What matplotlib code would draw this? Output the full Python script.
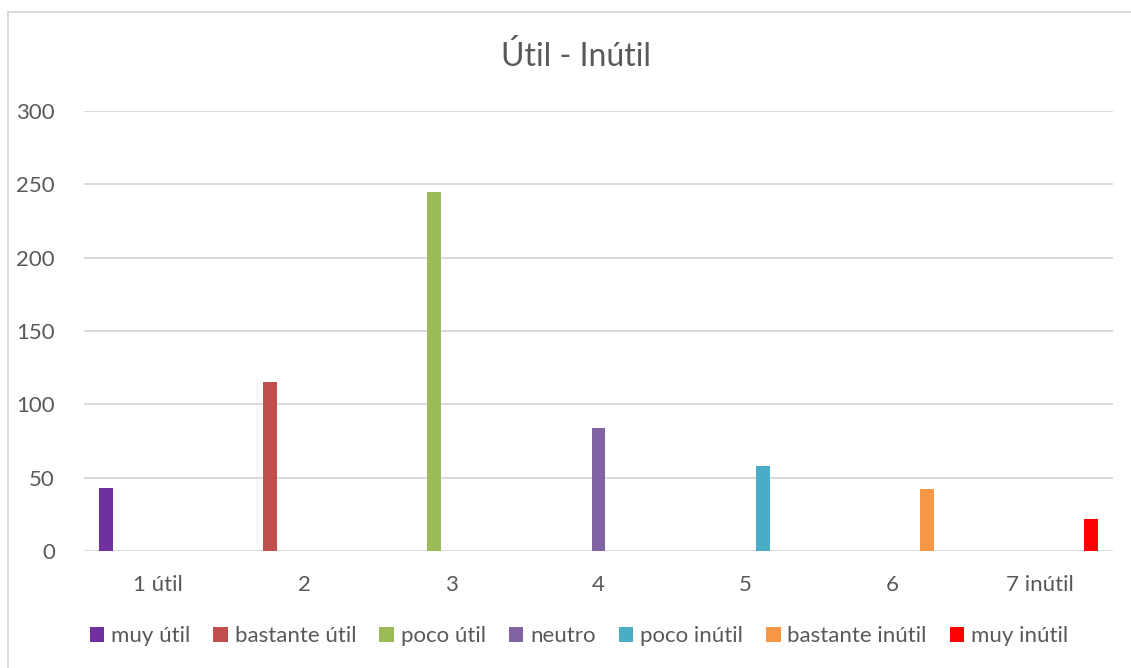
import matplotlib
matplotlib.use("Agg")
import matplotlib.pyplot as plt
from matplotlib.patches import Rectangle, Patch
import numpy as np

plt.rcParams['font.family'] = ['Lato', 'DejaVu Sans']

title = "Útil - Inútil"
categories = ["1 útil", "2", "3", "4", "5", "6", "7 inútil"]
series_names = ["muy útil", "bastante útil", "poco útil", "neutro",
                "poco inútil", "bastante inútil", "muy inútil"]
# each series has a single count, sitting at the category of the same index
counts = [43, 115, 245, 84, 58, 42, 22]
colors = ["#7030A0", "#C0504D", "#9BBB59", "#8064A2",
          "#4BACC6", "#F79646", "#FF0000"]
y_ticks = [0, 50, 100, 150, 200, 250, 300]

text_color = "#595959"
grid_color = "#D9D9D9"

fig = plt.figure(figsize=(11.31, 6.68), dpi=100)
fig.patch.set_facecolor("white")

# chart-area frame (top and left edges visible)
fig.add_artist(Rectangle((7.5 / 1131, -0.1), 1.2, 1 - 12.5 / 668 + 0.1,
                         transform=fig.transFigure, fill=False,
                         edgecolor=grid_color, linewidth=1.4))

ax = fig.add_axes([84 / 1131, 1 - 551 / 668, (1113 - 84) / 1131, 440 / 668])

n_series = len(series_names)
slot = 0.1167
bar_w = 0.095
x = np.arange(len(categories))
for s in range(n_series):
    ax.bar(x[s] + (s - (n_series - 1) / 2) * slot, counts[s], width=bar_w,
           color=colors[s], label=series_names[s], zorder=3)

ax.set_xlim(-0.5, len(categories) - 0.5)
ax.set_ylim(0, 300)
ax.set_yticks(y_ticks)
ax.set_xticks(x)
ax.set_xticklabels(categories)
ax.tick_params(axis='both', length=0, labelsize=16, labelcolor=text_color)
ax.tick_params(axis='y', pad=21)
ax.tick_params(axis='x', pad=17)
ax.grid(axis='y', color=grid_color, linewidth=1.4, zorder=0)
for sp in ax.spines.values():
    sp.set_visible(False)

fig.text(576 / 1131, 1 - 56 / 668, title, ha='center', va='center',
         fontsize=23, color=text_color)

handles = [Patch(facecolor=c, edgecolor='none') for c in colors]
fig.legend(handles, series_names, loc='center', ncol=n_series,
           bbox_to_anchor=(579 / 1131, 1 - 636 / 668), frameon=False,
           fontsize=16, labelcolor=text_color, handlelength=0.65,
           handleheight=0.65, handletextpad=0.3, columnspacing=1.05)

fig.savefig("out.png", dpi=100, facecolor="white")
